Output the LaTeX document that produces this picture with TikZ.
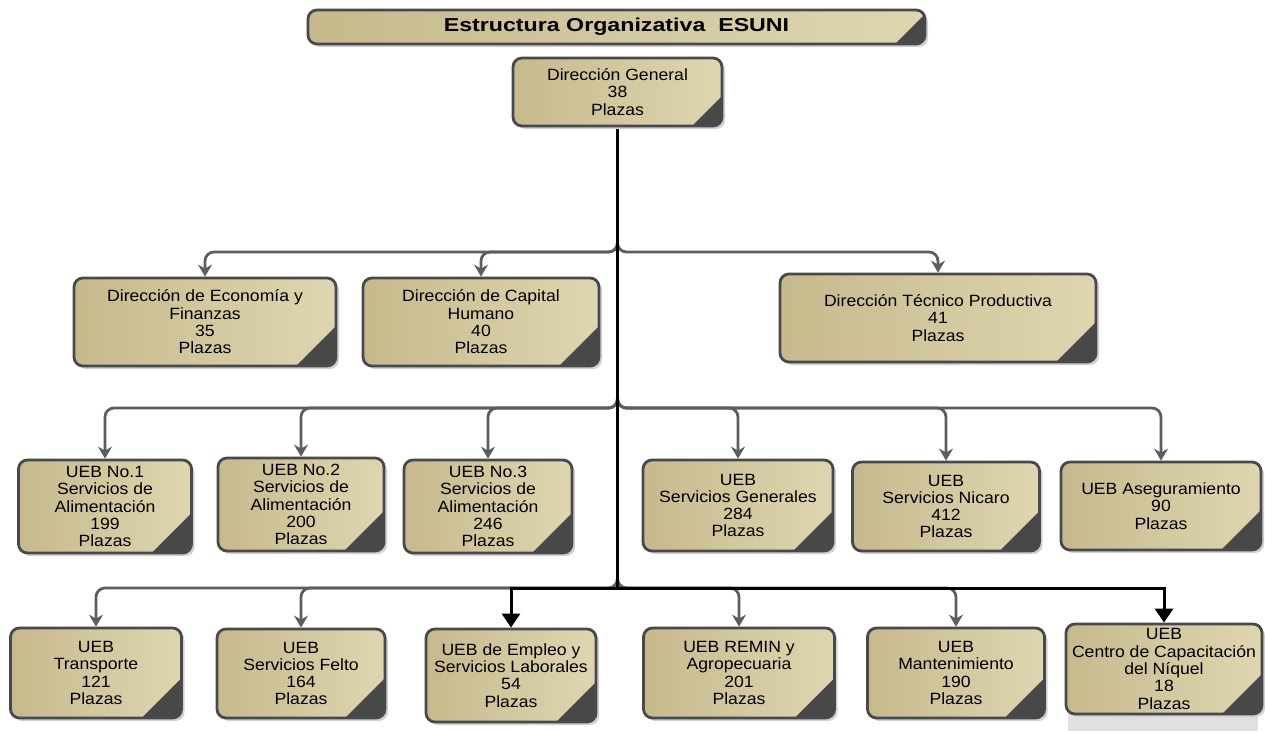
\documentclass[tikz,border=0pt]{standalone}
\usepackage{fontspec}
\setmainfont[FakeStretch=1.08]{Liberation Sans}
\newfontfamily\titlefont[FakeStretch=1.24]{Liberation Sans}
\usetikzlibrary{shadows,arrows.meta,backgrounds}
\definecolor{tanA}{RGB}{198,186,140}
\definecolor{tanB}{RGB}{223,214,176}
\definecolor{edgec}{RGB}{72,72,78}
\definecolor{linec}{RGB}{92,92,100}
\definecolor{cornerc}{RGB}{72,72,72}
\tikzset{
  tri/.store in=\trisize, tri=40pt,
  orgbox/.style={draw=edgec, line width=2.8pt, rounded corners=9pt,
    left color=tanA, right color=tanB, align=center,
    font=\fontsize{16.3}{17.3}\selectfont, inner sep=0pt,
    drop shadow={shadow xshift=3pt, shadow yshift=-3pt, fill=black!18, opacity=1},
    path picture={\fill[cornerc, sharp corners]
      ([xshift=-\trisize]path picture bounding box.south east) --
      (path picture bounding box.south east) --
      ([yshift=\trisize]path picture bounding box.south east) -- cycle;}},
  grayconn/.style={draw=linec, line width=2.8pt, rounded corners=9pt,
    -{Stealth[length=12pt,width=14pt,inset=4pt]}},
  blackconn/.style={draw=black, line width=3pt, sharp corners,
    -{Triangle[length=14pt,width=18pt]}},
}
\begin{document}
\begin{tikzpicture}[x=1pt,y=-1pt]
\useasboundingbox (0,0) rectangle (1265,731);

% gray block under last box
\fill[black!12] (1068,712) rectangle (1258,731);

% boxes
\node[orgbox, tri=30pt, minimum width=617pt, minimum height=34pt,
  font=\titlefont\bfseries\fontsize{18.7}{22}\selectfont] (title) at (616.5,27) {Estructura Organizativa\ \ ESUNI};
\node[orgbox, tri=30pt, minimum width=209pt, minimum height=68pt] (DG) at (617.5,92) {Dirección General\\38\\Plazas};

\node[orgbox, minimum width=262pt, minimum height=88pt] (Eco) at (205,322) {Dirección de Economía y\\Finanzas\\35\\Plazas};
\node[orgbox, minimum width=236pt, minimum height=88pt] (Cap) at (481,322) {Dirección de Capital\\Humano\\40\\Plazas};
\node[orgbox, minimum width=316pt, minimum height=88pt] (Tec) at (938,318) {Dirección Técnico Productiva\\41\\Plazas};

\node[orgbox, minimum width=173pt, minimum height=93pt] (U1) at (105,506.5) {UEB No.1\\Servicios de\\Alimentación\\199\\Plazas};
\node[orgbox, minimum width=166pt, minimum height=93pt] (U2) at (301,504.5) {UEB No.2\\Servicios de\\Alimentación\\200\\Plazas};
\node[orgbox, minimum width=168pt, minimum height=93pt] (U3) at (488,506.5) {UEB No.3\\Servicios de\\Alimentación\\246\\Plazas};
\node[orgbox, minimum width=190pt, minimum height=91pt] (SG) at (738,505.5) {UEB\\Servicios Generales\\284\\Plazas};
\node[orgbox, minimum width=187pt, minimum height=89pt] (SN) at (946,506.5) {UEB\\Servicios Nicaro\\412\\Plazas};
\node[orgbox, minimum width=200pt, minimum height=88pt] (AS) at (1161,506) {UEB Aseguramiento\\90\\Plazas};

\node[orgbox, minimum width=171pt, minimum height=90pt] (T) at (96,673) {UEB\\Transporte\\121\\Plazas};
\node[orgbox, minimum width=168pt, minimum height=89pt] (F) at (301,673.5) {UEB\\Servicios Felto\\164\\Plazas};
\node[orgbox, minimum width=170pt, minimum height=93pt] (E) at (511,675.5) {UEB de Empleo y\\Servicios Laborales\\54\\Plazas};
\node[orgbox, minimum width=191pt, minimum height=90pt] (R) at (739,673) {UEB REMIN y\\Agropecuaria\\201\\Plazas};
\node[orgbox, minimum width=177pt, minimum height=90pt] (M) at (956,673) {UEB\\Mantenimiento\\190\\Plazas};
\node[orgbox, minimum width=196pt, minimum height=90pt] (C) at (1164,669) {UEB\\Centro de Capacitación\\del Níquel\\18\\Plazas};

% junction coordinates
\coordinate (r1) at (617.5,252);
\coordinate (r2) at (617.5,408);
\coordinate (r3) at (617.5,588);

\begin{pgfonlayer}{background}
\fill[white] (0,0) rectangle (1265,731);
\draw[grayconn] ([yshift=14pt]r1) -- (r1) -- (r1 -| Eco.north) -- (Eco.north);
\draw[grayconn] ([yshift=14pt]r1) -- (r1) -- (r1 -| Cap.north) -- (Cap.north);
\draw[grayconn] ([yshift=14pt]r1) -- (r1) -- (r1 -| Tec.north) -- (Tec.north);

\draw[grayconn] ([yshift=14pt]r2) -- (r2) -- (r2 -| U1.north) -- (U1.north);
\draw[grayconn] ([yshift=14pt]r2) -- (r2) -- (r2 -| U2.north) -- (U2.north);
\draw[grayconn] ([yshift=14pt]r2) -- (r2) -- (r2 -| U3.north) -- (U3.north);
\draw[grayconn] ([yshift=14pt]r2) -- (r2) -- (r2 -| SG.north) -- (SG.north);
\draw[grayconn] ([yshift=14pt]r2) -- (r2) -- (r2 -| SN.north) -- (SN.north);
\draw[grayconn] ([yshift=14pt]r2) -- (r2) -- (r2 -| AS.north) -- (AS.north);

\draw[grayconn] ([yshift=14pt]r3) -- (r3) -- (r3 -| T.north) -- (T.north);
\draw[grayconn] ([yshift=14pt]r3) -- (r3) -- (r3 -| F.north) -- (F.north);
\draw[grayconn] ([yshift=14pt]r3) -- (r3) -- (r3 -| R.north) -- (R.north);
\draw[grayconn] ([yshift=14pt]r3) -- (r3) -- (r3 -| M.north) -- (M.north);

\draw[black, line width=3.6pt] (DG.south) -- ([yshift=-1.5pt]r3);
\draw[blackconn] (r3) -- (r3 -| E.north) -- (E.north);
\draw[blackconn] (r3) -- (r3 -| C.north) -- (C.north);
\end{pgfonlayer}
\end{tikzpicture}
\end{document}
